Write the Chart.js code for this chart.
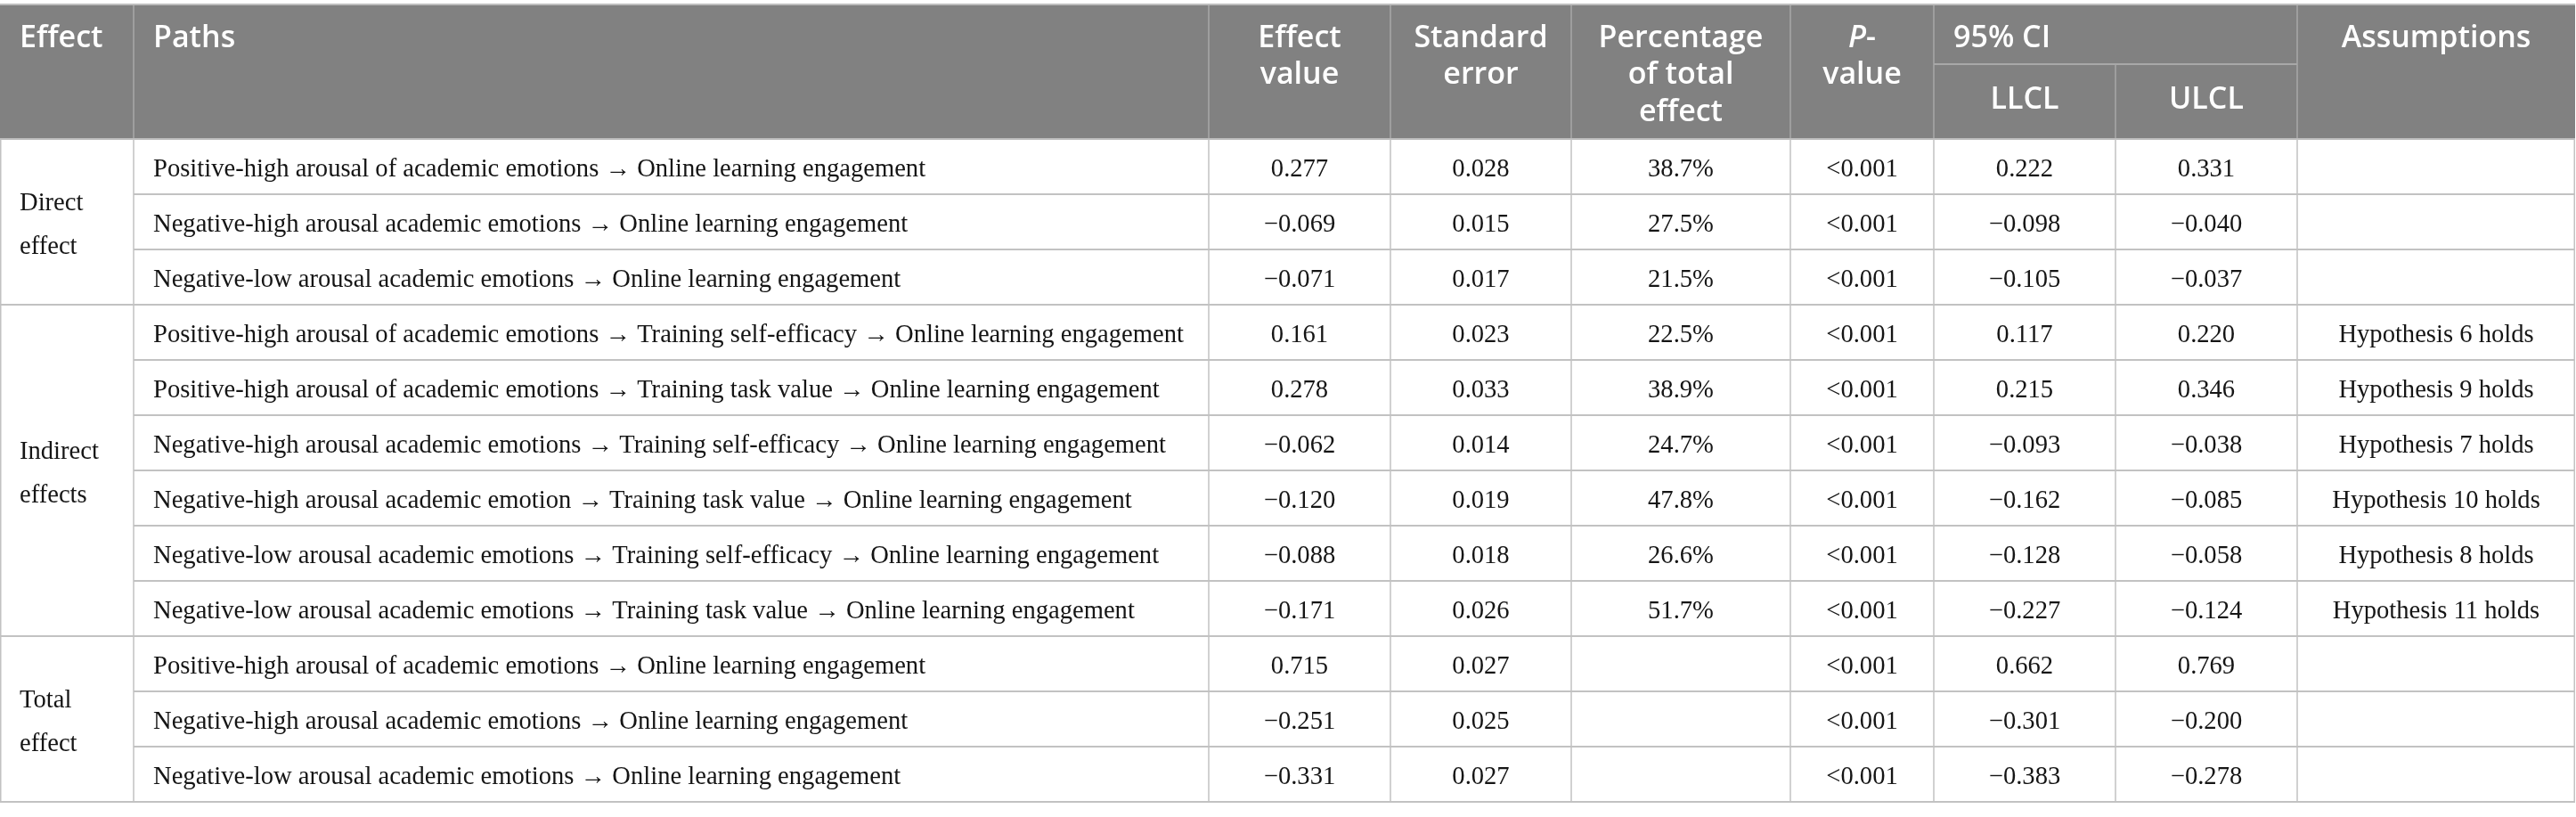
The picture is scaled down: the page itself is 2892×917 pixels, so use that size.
<!DOCTYPE html>
<html>
<head>
<meta charset="utf-8">
<title>Mediation effects table</title>
<script src="https://cdn.jsdelivr.net/npm/chart.js@4.4.1/dist/chart.umd.min.js"></script>
<style>
  html, body { margin: 0; padding: 0; background: #fff; }
  #wrap { width: 2892px; height: 917px; position: relative; }
</style>
</head>
<body>
<div id="wrap"><canvas id="table"></canvas></div>
<script>
// table content
const effectGroups = [['Direct', 'effect'], ['Indirect', 'effects'], ['Total', 'effect']];
const groupSizes = [3, 6, 3];

const paths = [
  'Positive-high arousal of academic emotions \u2192 Online learning engagement',
  'Negative-high arousal academic emotions \u2192 Online learning engagement',
  'Negative-low arousal academic emotions \u2192 Online learning engagement',
  'Positive-high arousal of academic emotions \u2192 Training self-efficacy \u2192 Online learning engagement',
  'Positive-high arousal of academic emotions \u2192 Training task value \u2192 Online learning engagement',
  'Negative-high arousal academic emotions \u2192 Training self-efficacy \u2192 Online learning engagement',
  'Negative-high arousal academic emotion \u2192 Training task value \u2192 Online learning engagement',
  'Negative-low arousal academic emotions \u2192 Training self-efficacy \u2192 Online learning engagement',
  'Negative-low arousal academic emotions \u2192 Training task value \u2192 Online learning engagement',
  'Positive-high arousal of academic emotions \u2192 Online learning engagement',
  'Negative-high arousal academic emotions \u2192 Online learning engagement',
  'Negative-low arousal academic emotions \u2192 Online learning engagement'
];
const effectValues = [0.277, -0.069, -0.071, 0.161, 0.278, -0.062, -0.120, -0.088, -0.171, 0.715, -0.251, -0.331];
const standardErrors = [0.028, 0.015, 0.017, 0.023, 0.033, 0.014, 0.019, 0.018, 0.026, 0.027, 0.025, 0.027];
const pctOfTotal = [38.7, 27.5, 21.5, 22.5, 38.9, 24.7, 47.8, 26.6, 51.7, null, null, null];
const pValues = ['<0.001', '<0.001', '<0.001', '<0.001', '<0.001', '<0.001',
                 '<0.001', '<0.001', '<0.001', '<0.001', '<0.001', '<0.001'];
const llcl = [0.222, -0.098, -0.105, 0.117, 0.215, -0.093, -0.162, -0.128, -0.227, 0.662, -0.301, -0.383];
const ulcl = [0.331, -0.040, -0.037, 0.220, 0.346, -0.038, -0.085, -0.058, -0.124, 0.769, -0.200, -0.278];
const assumptions = ['', '', '', 'Hypothesis 6 holds', 'Hypothesis 9 holds', 'Hypothesis 7 holds',
                     'Hypothesis 10 holds', 'Hypothesis 8 holds', 'Hypothesis 11 holds', '', '', ''];

const headerLabels = [['Effect'], ['Paths'], ['Effect', 'value'], ['Standard', 'error'],
                      ['Percentage', 'of total', 'effect'], ['P-', 'value'], ['95% CI'], ['Assumptions']];
const subHeaderLabels = ['LLCL', 'ULCL'];

// layout (pixels on the x scale, row units on the y scale)
const colEdges = [0, 150, 1357, 1561, 1764, 2010, 2171, 2375, 2579, 2891];
const headerSpans = [[0, 1], [1, 2], [2, 3], [3, 4], [4, 5], [5, 6], [6, 8], [8, 9]];
const headerAlign = ['left', 'left', 'center', 'center', 'center', 'center', 'left', 'center'];
const ROW_PX = 62;
const TOP_PX = 5, HEAD_PX = 151, BOTTOM_PX = 17;
const Y_MIN = -(TOP_PX + HEAD_PX) / ROW_PX;
const HEAD_TOP = -HEAD_PX / ROW_PX;
const Y_MAX = paths.length + BOTTOM_PX / ROW_PX;
const pxToRow = px => px / ROW_PX + Y_MIN;
const headBaselines = [53, 94, 136].map(pxToRow);
const subLineY = pxToRow(72);
const subBaseline = pxToRow(122);
const PAD = 22;
const TEXT_NUDGE = 3;
const BODY_FONT = '28.6px "Liberation Serif", "Times New Roman", serif';
const HEAD_FONT = '600 34px "Open Sans", "Noto Sans", sans-serif';
const HEAD_FONT_IT = 'italic 600 34px "Open Sans", "Noto Sans", sans-serif';

const fmt3 = v => v == null ? '' : (v < 0 ? '\u2212' : '') + Math.abs(v).toFixed(3);
const fmtPct = v => v == null ? '' : v.toFixed(1) + '%';
const mid = i => (colEdges[i] + colEdges[i + 1]) / 2;

function column(values, x, align) {
  return {
    data: values.map((t, i) => ({ x: x, y: i + 0.5, label: t })),
    align: align,
    pointRadius: 0,
    showLine: false
  };
}

let start = 0;
const groupPoints = effectGroups.map((g, i) => {
  const p = { x: colEdges[0] + PAD, y: start + groupSizes[i] / 2, label: g };
  start += groupSizes[i];
  return p;
});

const datasets = [
  { data: groupPoints, align: 'left', pointRadius: 0, showLine: false },
  column(paths, colEdges[1] + PAD, 'left'),
  column(effectValues.map(fmt3), mid(2), 'center'),
  column(standardErrors.map(fmt3), mid(3), 'center'),
  column(pctOfTotal.map(fmtPct), mid(4), 'center'),
  column(pValues, mid(5), 'center'),
  column(llcl.map(fmt3), mid(6), 'center'),
  column(ulcl.map(fmt3), mid(7), 'center'),
  column(assumptions, mid(8), 'center')
];

const groupEnds = [];
groupSizes.reduce((acc, n) => { groupEnds.push(acc + n); return acc + n; }, 0);

const tablePlugin = {
  id: 'tableGrid',
  beforeDatasetsDraw(chart) {
    const ctx = chart.ctx;
    const xs = chart.scales.x, ys = chart.scales.y;
    const X = v => xs.getPixelForValue(v);
    const Y = v => ys.getPixelForValue(v);
    const left = X(colEdges[0]), right = X(colEdges[colEdges.length - 1]);
    const hTop = Y(HEAD_TOP), hBot = Y(0), bot = Y(paths.length);
    ctx.save();
    // header band
    ctx.fillStyle = '#818181';
    ctx.fillRect(left, hTop, right - left, hBot - hTop);
    ctx.strokeStyle = '#a8a8a8';
    ctx.lineWidth = 1.5;
    ctx.beginPath();
    colEdges.slice(1, -1).forEach((e, k) => {
      const i = k + 1;
      if (i === 7) {
        ctx.moveTo(X(e), Y(subLineY)); ctx.lineTo(X(e), hBot);
      } else {
        ctx.moveTo(X(e), hTop); ctx.lineTo(X(e), hBot);
      }
    });
    ctx.stroke();
    ctx.lineWidth = 2;
    ctx.beginPath();
    ctx.moveTo(X(colEdges[6]), Y(subLineY)); ctx.lineTo(X(colEdges[8]), Y(subLineY));
    ctx.stroke();
    // outer header lines
    ctx.strokeStyle = '#bdbdbd';
    ctx.lineWidth = 2;
    ctx.beginPath();
    ctx.moveTo(left, hTop); ctx.lineTo(right, hTop);
    ctx.moveTo(left, hBot); ctx.lineTo(right, hBot);
    ctx.stroke();
    // body grid
    ctx.strokeStyle = '#c2c2c2';
    ctx.lineWidth = 2;
    ctx.beginPath();
    for (let r = 1; r <= paths.length; r++) {
      const x0 = groupEnds.includes(r) ? left : X(colEdges[1]);
      ctx.moveTo(x0, Y(r)); ctx.lineTo(right, Y(r));
    }
    ctx.stroke();
    ctx.lineWidth = 1.5;
    ctx.beginPath();
    colEdges.forEach(e => {
      const x = Math.min(Math.max(X(e), left + 0.75), right - 0.75);
      ctx.moveTo(x, hBot); ctx.lineTo(x, bot);
    });
    ctx.stroke();
    // header text
    ctx.fillStyle = '#ffffff';
    ctx.textBaseline = 'alphabetic';
    headerLabels.forEach((lines, h) => {
      const [a, b] = headerSpans[h];
      const align = headerAlign[h];
      const x = align === 'left' ? X(colEdges[a]) + PAD : X((colEdges[a] + colEdges[b]) / 2);
      lines.forEach((line, j) => {
        const y = Y(headBaselines[j]);
        if (line.startsWith('P-')) {
          ctx.font = HEAD_FONT_IT;
          const wP = ctx.measureText('P').width;
          ctx.font = HEAD_FONT;
          const wRest = ctx.measureText(line.slice(1)).width;
          const x0 = x - (wP + wRest) / 2;
          ctx.textAlign = 'left';
          ctx.font = HEAD_FONT_IT;
          ctx.fillText('P', x0, y);
          ctx.font = HEAD_FONT;
          ctx.fillText(line.slice(1), x0 + wP, y);
        } else {
          ctx.font = HEAD_FONT;
          ctx.textAlign = align;
          ctx.fillText(line, x, y);
        }
      });
    });
    ctx.font = HEAD_FONT;
    ctx.textAlign = 'center';
    subHeaderLabels.forEach((t, k) => ctx.fillText(t, X(mid(6 + k)), Y(subBaseline)));
    ctx.restore();
  },
  afterDatasetsDraw(chart) {
    const ctx = chart.ctx;
    ctx.save();
    ctx.font = BODY_FONT;
    ctx.fillStyle = '#151515';
    ctx.textBaseline = 'middle';
    chart.data.datasets.forEach((ds, d) => {
      const meta = chart.getDatasetMeta(d);
      ctx.textAlign = ds.align;
      meta.data.forEach((el, i) => {
        const label = ds.data[i].label;
        if (Array.isArray(label)) {
          const gap = 49;
          label.forEach((line, j) => {
            ctx.fillText(line, el.x, el.y + TEXT_NUDGE + 1 + (j - (label.length - 1) / 2) * gap);
          });
        } else if (label) {
          ctx.fillText(label, el.x, el.y + TEXT_NUDGE);
        }
      });
    });
    ctx.restore();
  }
};

new Chart(document.getElementById('table'), {
  type: 'scatter',
  data: { datasets: datasets },
  options: {
    responsive: true,
    maintainAspectRatio: false,
    animation: false,
    events: [],
    layout: { padding: 0 },
    plugins: { legend: { display: false }, tooltip: { enabled: false } },
    scales: {
      x: { type: 'linear', min: 0, max: 2892, display: false },
      y: { type: 'linear', min: Y_MIN, max: Y_MAX, reverse: true, display: false }
    }
  },
  plugins: [tablePlugin]
});
</script>
</body>
</html>
